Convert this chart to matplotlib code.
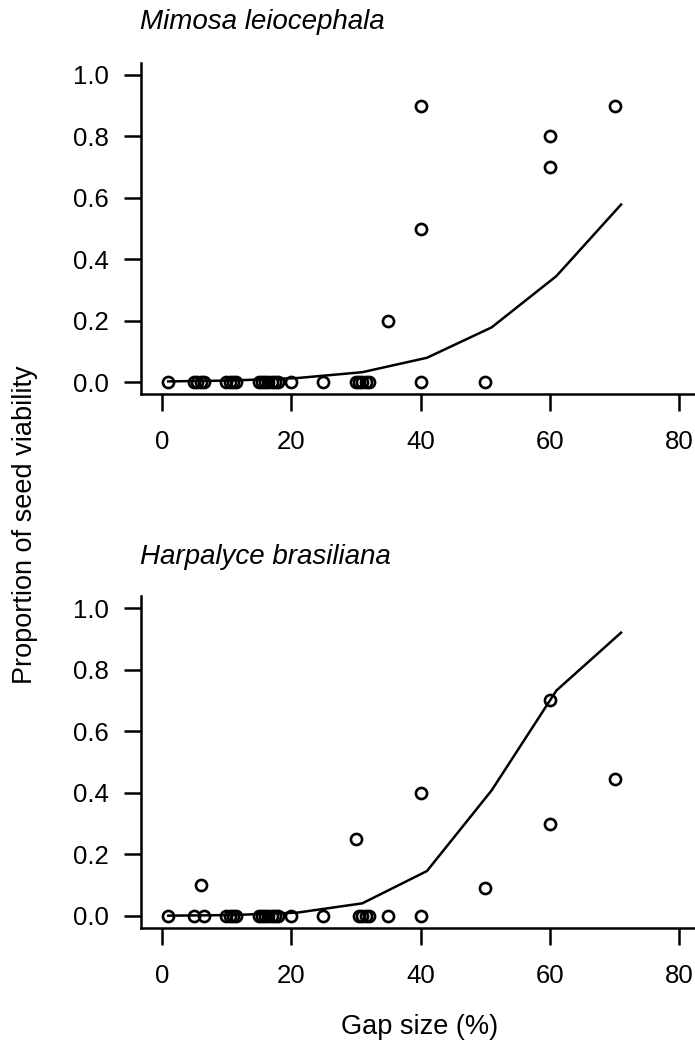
import matplotlib.pyplot as plt

plt.rcParams['font.family'] = ['Liberation Sans', 'DejaVu Sans']

# Mimosa leiocephala
mimosa_x = [1, 5, 5.5, 6, 6.5, 10, 10.5, 11, 11.5, 15, 15.5, 16, 16.5, 17, 17.5, 18,
            20, 25, 30, 30.5, 31, 31.5, 32, 40, 50,
            35, 40, 40, 60, 60, 70]
mimosa_y = [0] * 25 + [0.2, 0.5, 0.9, 0.7, 0.8, 0.9]

# Harpalyce brasiliana
harp_x = [1, 5, 6.5, 10, 10.5, 11, 11.5, 15, 15.5, 16, 16.5, 17, 17.5, 18,
          20, 25, 30.5, 31, 31.5, 32, 35, 40,
          6, 30, 40, 50, 60, 60, 70]
harp_y = [0] * 22 + [0.1, 0.25, 0.4, 0.09, 0.3, 0.7, 0.444]

# fitted curves
fit_x = [1, 11, 21, 31, 41, 51, 61, 71]
mimosa_fit = [0.002, 0.005, 0.013, 0.032, 0.079, 0.178, 0.345, 0.578]
harp_fit = [0.001, 0.003, 0.011, 0.041, 0.146, 0.408, 0.732, 0.92]

panels = [
    ("Mimosa leiocephala", mimosa_x, mimosa_y, mimosa_fit, 394.3, 62.7, 22),
    ("Harpalyce brasiliana", harp_x, harp_y, harp_fit, 928.3, 595.7, 557),
]

W, H = 695, 1048
fig = plt.figure(figsize=(W / 100, H / 100), dpi=100)

for name, xs, ys, fit, ybot, ytop, ytitle in panels:
    ax = fig.add_axes([141 / W, 1 - ybot / H, 559 / W, (ybot - ytop) / H])
    ax.plot(xs, ys, 'o', mfc='none', mec='black', ms=8, mew=1.9)
    ax.plot(fit_x, fit, color='black', lw=1.8)
    ax.set_xlim(-3.2, 83.2)
    ax.set_ylim(-0.04, 1.04)
    ax.set_xticks([0, 20, 40, 60, 80])
    ax.set_yticks([0, 0.2, 0.4, 0.6, 0.8, 1.0])
    ax.set_yticklabels(["0.0", "0.2", "0.4", "0.6", "0.8", "1.0"])
    ax.spines['top'].set_visible(False)
    ax.spines['right'].set_visible(False)
    for s in ['left', 'bottom']:
        ax.spines[s].set_linewidth(1.8)
    ax.tick_params(direction='out', length=12, width=1.8, labelsize=18.5)
    ax.tick_params(axis='x', pad=14)
    ax.tick_params(axis='y', pad=11)
    fig.text(140 / W, 1 - ytitle / H, name, style='italic', fontsize=20,
             ha='left', va='center')

fig.text(420 / W, 1 - 1027 / H, "Gap size (%)", fontsize=19.5, ha='center', va='center')
fig.text(25 / W, 1 - 525 / H, "Proportion of seed viability", fontsize=19.5,
         rotation=90, ha='center', va='center')

fig.savefig("out.png", dpi=100)
